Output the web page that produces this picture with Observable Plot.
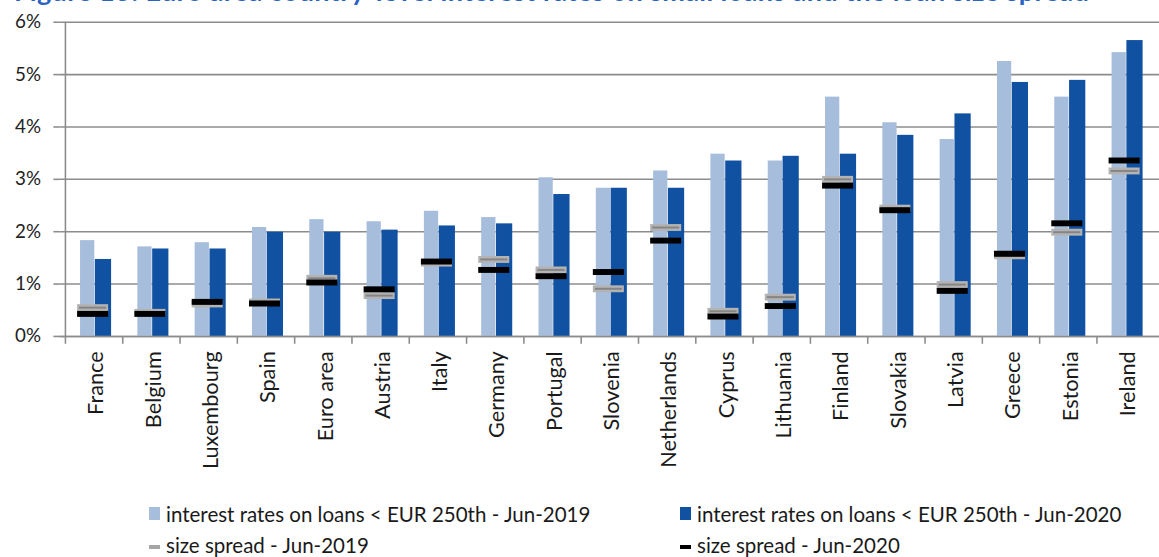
<!DOCTYPE html>
<html>
<head>
<meta charset="utf-8">
<script src="https://cdn.jsdelivr.net/npm/d3@7"></script>
<script src="https://cdn.jsdelivr.net/npm/@observablehq/plot@0.6"></script>
<style>
  html, body { margin: 0; padding: 0; background: #fff; }
  body { width: 1159px; height: 557px; overflow: hidden; position: relative; font-family: Lato, sans-serif; }
  #title { position: absolute; z-index: 3; left: 14px; top: -23px; font: 700 27px Lato, sans-serif; letter-spacing: 0.4px; line-height: 28px; color: #2a62bf; white-space: nowrap; }
  #chart { position: absolute; left: 0; top: 0; z-index: 1; }
  #legend { position: absolute; left: 0; top: 0; z-index: 2; }
  .leg { position: absolute; font-family: Lato, sans-serif; font-size: 20.5px; color: #1a1a1a; white-space: nowrap; line-height: 20px; }
  .sw { position: absolute; }
</style>
</head>
<body>
<div id="chart"></div>
<div id="legend"></div>
<div id="title">Figure 13: Euro area country-level interest rates on small loans and the loan size spread</div>
<script>
const countries = ["France","Belgium","Luxembourg","Spain","Euro area","Austria","Italy","Germany","Portugal","Slovenia","Netherlands","Cyprus","Lithuania","Finland","Slovakia","Latvia","Greece","Estonia","Ireland"];
const rate2019 = [1.83,1.71,1.79,2.08,2.23,2.19,2.39,2.27,3.03,2.83,3.16,3.48,3.35,4.57,4.08,3.76,5.25,4.57,5.42];
const rate2020 = [1.47,1.67,1.67,1.99,1.99,2.03,2.11,2.15,2.71,2.83,2.83,3.35,3.44,3.48,3.84,4.25,4.85,4.89,5.65];
const spread2019 = [0.55,0.46,0.62,0.66,1.11,0.78,1.40,1.47,1.27,0.91,2.08,0.48,0.75,3.00,2.45,0.99,1.54,1.99,3.16];
const spread2020 = [0.43,0.43,0.66,0.63,1.03,0.90,1.43,1.27,1.15,1.23,1.83,0.38,0.58,2.88,2.41,0.87,1.58,2.16,3.36];
const yTicks = [0,1,2,3,4,5,6];
const legendLabels = [
  "interest rates on loans < EUR 250th - Jun-2019",
  "interest rates on loans < EUR 250th - Jun-2020",
  "size spread - Jun-2019",
  "size spread - Jun-2020"
];

const lightBlue = "#a7bddc";
const darkBlue = "#1151a1";
const gridColor = "#8c8c8c";

const rows = countries.map((c, i) => ({country: c, r19: rate2019[i], r20: rate2020[i], s19: spread2019[i], s20: spread2020[i]}));

const W = 1173, ML = 60;
const bw = (W - ML) / countries.length;

const chart = Plot.plot({
  width: W,
  height: 490,
  marginLeft: ML,
  marginRight: 0,
  marginTop: 22,
  marginBottom: 150,
  style: {fontFamily: "Lato, sans-serif", background: "transparent", overflow: "visible"},
  x: {domain: countries, padding: 0, axis: null, label: null},
  y: {domain: [0, 6], axis: null, label: null},
  marks: [
    Plot.ruleY(yTicks, {stroke: gridColor, strokeWidth: 1.6}),
    Plot.barY(rows, {x: "country", y: "r19", fill: lightBlue, insetLeft: 15, insetRight: bw - 30}),
    Plot.barY(rows, {x: "country", y: "r20", fill: darkBlue, insetLeft: 30, insetRight: bw - 47}),
    Plot.tickY(rows, {x: "country", y: "s19", stroke: "#b3b3b3", strokeWidth: 7, insetLeft: 12, insetRight: bw - 44}),
    Plot.tickY(rows, {x: "country", y: "s19", stroke: "#858585", strokeWidth: 2, insetLeft: 14, insetRight: bw - 42}),
    Plot.tickY(rows, {x: "country", y: "s20", stroke: "#000", strokeWidth: 6, insetLeft: 12, insetRight: bw - 44}),
    Plot.ruleY([0], {stroke: gridColor, strokeWidth: 1.6}),
    Plot.ruleX([countries[0]], {x: d => d, dx: -bw / 2, y1: 6, y2: -0.15, stroke: gridColor, strokeWidth: 1.6}),
    Plot.ruleX(countries.slice(1), {x: d => d, dx: -bw / 2, y1: 0, y2: -0.15, stroke: gridColor, strokeWidth: 1.6}),
    Plot.axisY(yTicks, {tickSize: 6, tickPadding: 13, tickFormat: d => d + "%", fontSize: 19, fill: "#222", stroke: gridColor, strokeWidth: 1.6, label: null}),
    Plot.axisX({tickRotate: -90, tickSize: 0, tickPadding: 15, fontSize: 22, fill: "#1a1a1a", dx: 2, label: null})
  ]
});
document.getElementById("chart").appendChild(chart);

// legend
const legend = document.getElementById("legend");
const legItems = [
  {label: legendLabels[0], left: 149, top: 504, type: "box", color: lightBlue},
  {label: legendLabels[1], left: 680, top: 504, type: "box", color: darkBlue},
  {label: legendLabels[2], left: 149, top: 535, type: "dash", color: "#a6a6a6"},
  {label: legendLabels[3], left: 680, top: 535, type: "dash", color: "#000"}
];
for (const it of legItems) {
  const sw = document.createElement("div");
  sw.className = "sw";
  sw.style.left = it.left + "px";
  sw.style.background = it.color;
  if (it.type === "box") {
    sw.style.top = (it.top + 3) + "px";
    sw.style.width = "11px";
    sw.style.height = "13px";
  } else {
    sw.style.top = (it.top + 10) + "px";
    sw.style.width = "11px";
    sw.style.height = "4px";
  }
  legend.appendChild(sw);
  const t = document.createElement("div");
  t.className = "leg";
  t.style.left = (it.left + 17) + "px";
  t.style.top = it.top + "px";
  t.textContent = it.label;
  legend.appendChild(t);
}
</script>
</body>
</html>
